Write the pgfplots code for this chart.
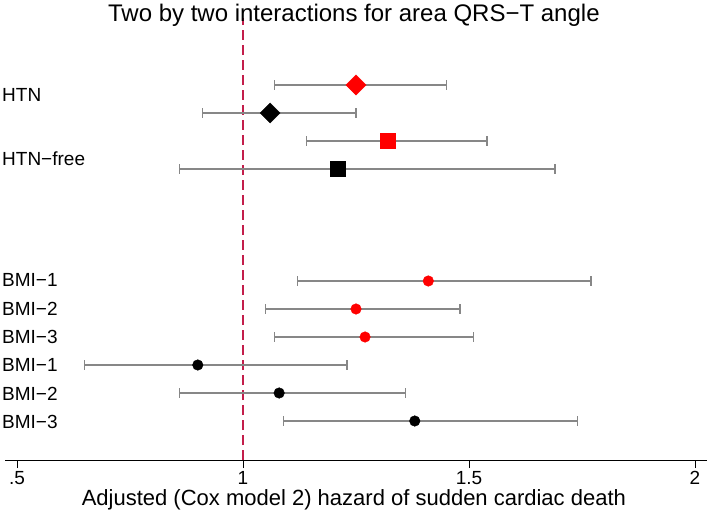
\documentclass[border=0pt]{standalone}
\usepackage{pgfplots}
\usepackage{pgfplotstable}
\pgfplotsset{compat=1.18}
\usepackage{fontspec}
\setmainfont{Liberation Sans}

\definecolor{cigray}{RGB}{135,135,135}
\definecolor{refline}{RGB}{195,30,75}

% y is the row position (points above the x axis), est/lo/hi the hazard ratio and its CI
\pgfplotstableread{
y   est  lo   hi
375 1.25 1.07 1.45
347 1.06 0.91 1.25
319 1.32 1.14 1.54
291 1.21 0.86 1.69
179 1.41 1.12 1.77
151 1.25 1.05 1.48
123 1.27 1.07 1.51
95  0.90 0.65 1.23
67  1.08 0.86 1.36
39  1.38 1.09 1.74
}\hrtable

\begin{document}
\begin{tikzpicture}
\begin{axis}[
    at={(5bp,0)}, anchor=south west,
    scale only axis,
    width=702bp, height=442bp,
    xmin=0.4735, xmax=2.0265,
    ymin=0, ymax=442,
    axis x line*=bottom,
    axis y line*=left,
    y axis line style={draw=none},
    x axis line style={line width=0.9bp},
    xtick={0.5,1,1.5,2},
    xticklabels={.5,1,1.5,2},
    tick align=outside,
    major tick length=8bp,
    xtick style={line width=0.9bp, black},
    ytick={365,301,180,151,123,95,66,38},
    yticklabels={HTN,HTN\textminus free,BMI\textminus 1,BMI\textminus 2,BMI\textminus 3,BMI\textminus 1,BMI\textminus 2,BMI\textminus 3},
    ytick style={draw=none},
    yticklabel style={anchor=west, xshift=5bp, inner sep=0pt, font=\fontsize{19bp}{22bp}\selectfont},
    xticklabel style={font=\fontsize{19bp}{22bp}\selectfont},
    /pgf/number format/assume math mode=true,
    xlabel={Adjusted (Cox model 2) hazard of sudden cardiac death},
    xlabel style={at={(rel axis cs:0.497,0)}, anchor=base, yshift=-45bp, font=\fontsize{22bp}{26bp}\selectfont},
    title={Two by two interactions for area QRS\textminus T angle},
    title style={at={(rel axis cs:0.497,1)}, anchor=base, yshift=-9bp, font=\fontsize{24bp}{28bp}\selectfont},
    clip=false,
]

% reference line at HR = 1
\addplot[refline, line width=1.4bp, dash pattern=on 10bp off 5bp] coordinates {(1,0) (1,442)};

% confidence intervals
\addplot[only marks, mark=none,
    error bars/.cd, x dir=both, x explicit,
    error bar style={cigray, line width=1.8bp},
    error mark options={cigray, line width=1.4bp, mark size=4.8bp, rotate=90}]
  table[x=est, y=y,
    x error plus expr=\thisrow{hi}-\thisrow{est},
    x error minus expr=\thisrow{est}-\thisrow{lo}] {\hrtable};

% HTN diamonds
\addplot[red, only marks, mark=square*, mark size=7.1bp, mark options={rotate=45, red},
    skip coords between index={1}{10}] table[x=est, y=y] {\hrtable};
\addplot[black, only marks, mark=square*, mark size=7.1bp, mark options={rotate=45, black},
    skip coords between index={0}{1}, skip coords between index={2}{10}] table[x=est, y=y] {\hrtable};

% HTN-free squares
\addplot[red, only marks, mark=square*, mark size=7.3bp, mark options={red},
    skip coords between index={0}{2}, skip coords between index={3}{10}] table[x=est, y=y] {\hrtable};
\addplot[black, only marks, mark=square*, mark size=7.3bp, mark options={black},
    skip coords between index={0}{3}, skip coords between index={4}{10}] table[x=est, y=y] {\hrtable};

% BMI circles
\addplot[red, only marks, mark=*, mark size=5.3bp, mark options={red},
    skip coords between index={0}{4}, skip coords between index={7}{10}] table[x=est, y=y] {\hrtable};
\addplot[black, only marks, mark=*, mark size=5.3bp, mark options={black},
    skip coords between index={0}{7}] table[x=est, y=y] {\hrtable};

\end{axis}
\pgfresetboundingbox
\useasboundingbox (0,-53bp) rectangle (709bp,460bp);
\end{tikzpicture}
\end{document}
